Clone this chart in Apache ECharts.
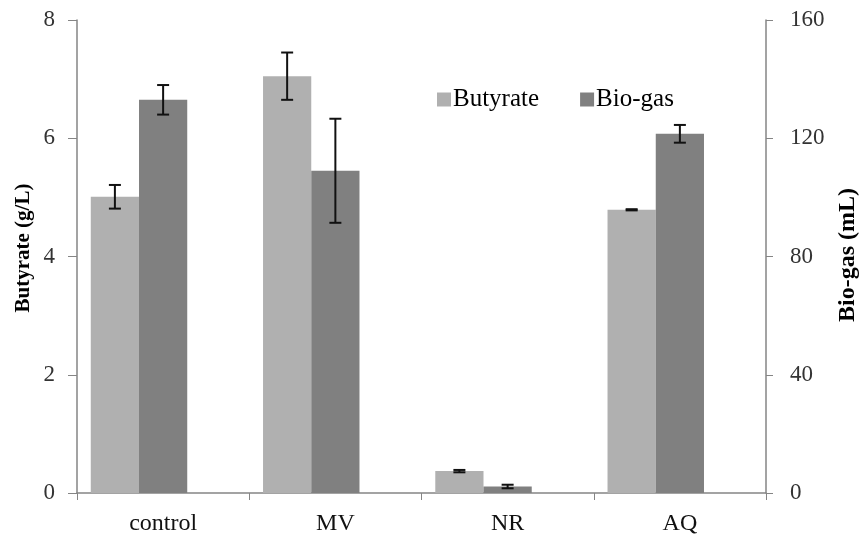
<!DOCTYPE html>
<html><head><meta charset="utf-8">
<script src="https://cdn.jsdelivr.net/npm/echarts@6/dist/echarts.min.js"></script>
<style>html,body{margin:0;padding:0;background:#fff}#c{width:860px;height:544px}</style>
</head><body><div id="c"></div>
<script>
const categories = ['control', 'MV', 'NR', 'AQ'];
const butyrate = [5.01, 7.05, 0.37, 4.79];
const butyrateErr = [0.2, 0.4, 0.02, 0.01];
const biogas = [133, 109, 2.2, 121.5];
const biogasErr = [5, 17.6, 0.6, 3];
const leftTicks = [0, 8, 2];
const rightTicks = [0, 160, 40];
const leftTitle = 'Butyrate (g/L)';
const rightTitle = 'Bio-gas (mL)';

const FONT = '"Liberation Serif", "DejaVu Serif", serif';
const CAT_GAP = 0.16;

function errItem(offsetBars, errs) {
  return function (params, api) {
    const idx = api.value(0);
    const v = api.value(1);
    const e = errs[idx];
    const center = api.coord([idx, v]);
    const catW = api.size([1, 0])[0];
    const barW = catW * (1 - CAT_GAP) / 3;
    const x = center[0] + offsetBars * barW;
    const top = api.coord([idx, v + e])[1];
    const bot = api.coord([idx, v - e])[1];
    const hw = 6;
    const st = { stroke: '#111', lineWidth: 2 };
    return { type: 'group', children: [
      { type: 'line', shape: { x1: x, y1: top, x2: x, y2: bot }, style: st },
      { type: 'line', shape: { x1: x - hw, y1: top, x2: x + hw, y2: top }, style: st },
      { type: 'line', shape: { x1: x - hw, y1: bot, x2: x + hw, y2: bot }, style: st }
    ]};
  };
}

const chart = echarts.init(document.getElementById('c'));
chart.setOption({
  animation: false,
  backgroundColor: '#fff',
  grid: { left: 77, right: 94, top: 20, bottom: 51, containLabel: false, outerBoundsMode: 'none' },
  legend: {
    data: ['Butyrate', 'Bio-gas'],
    left: 432, top: 82,
    itemWidth: 14, itemHeight: 14, itemGap: 41,
    icon: 'rect',
    textStyle: { fontFamily: FONT, fontSize: 25, color: '#000', padding: [0, 0, 0, -3] }
  },
  graphic: [
    { type: 'text', x: 24, y: 248, rotation: Math.PI / 2,
      style: { text: leftTitle, font: 'bold 21px ' + FONT, fill: '#000', align: 'center', verticalAlign: 'middle' } },
    { type: 'text', x: 848, y: 255, rotation: Math.PI / 2,
      style: { text: rightTitle, font: 'bold 24px ' + FONT, fill: '#000', align: 'center', verticalAlign: 'middle' } }
  ],
  xAxis: {
    type: 'category', data: categories,
    axisLine: { lineStyle: { color: '#858585', width: 1.5 } },
    axisTick: { show: true, alignWithLabel: false, length: 7, lineStyle: { color: '#858585' } },
    axisLabel: { fontFamily: FONT, fontSize: 24, color: '#111', margin: 19 }
  },
  yAxis: [
    {
      type: 'value', min: leftTicks[0], max: leftTicks[1], interval: leftTicks[2],
      axisLine: { show: true, lineStyle: { color: '#858585', width: 1.5 } },
      axisTick: { show: true, length: 9, lineStyle: { color: '#858585' } },
      axisLabel: { fontFamily: FONT, fontSize: 23, color: '#333', margin: 22 },
      splitLine: { show: false }
    },
    {
      type: 'value', min: rightTicks[0], max: rightTicks[1], interval: rightTicks[2],
      axisLine: { show: true, lineStyle: { color: '#858585', width: 1.5 } },
      axisTick: { show: true, length: 7, lineStyle: { color: '#858585' } },
      axisLabel: { fontFamily: FONT, fontSize: 23, color: '#333', margin: 24 },
      splitLine: { show: false }
    }
  ],
  series: [
    { name: 'Butyrate', type: 'bar', yAxisIndex: 0, data: butyrate, barGap: '0%', barCategoryGap: '16%',
      itemStyle: { color: '#b0b0b0' } },
    { name: 'Bio-gas', type: 'bar', yAxisIndex: 1, data: biogas, barGap: '0%', barCategoryGap: '16%',
      itemStyle: { color: '#808080' } },
    { name: 'spacer', type: 'bar', yAxisIndex: 0, data: categories.map(() => '-'), barGap: '0%', barCategoryGap: '16%',
      itemStyle: { color: 'rgba(0,0,0,0)' } },
    { name: 'ButErr', type: 'custom', yAxisIndex: 0, z: 10,
      data: butyrate.map((v, i) => [i, v]), renderItem: errItem(-1, butyrateErr) },
    { name: 'GasErr', type: 'custom', yAxisIndex: 1, z: 10,
      data: biogas.map((v, i) => [i, v]), renderItem: errItem(0, biogasErr) }
  ]
});
</script></body></html>
